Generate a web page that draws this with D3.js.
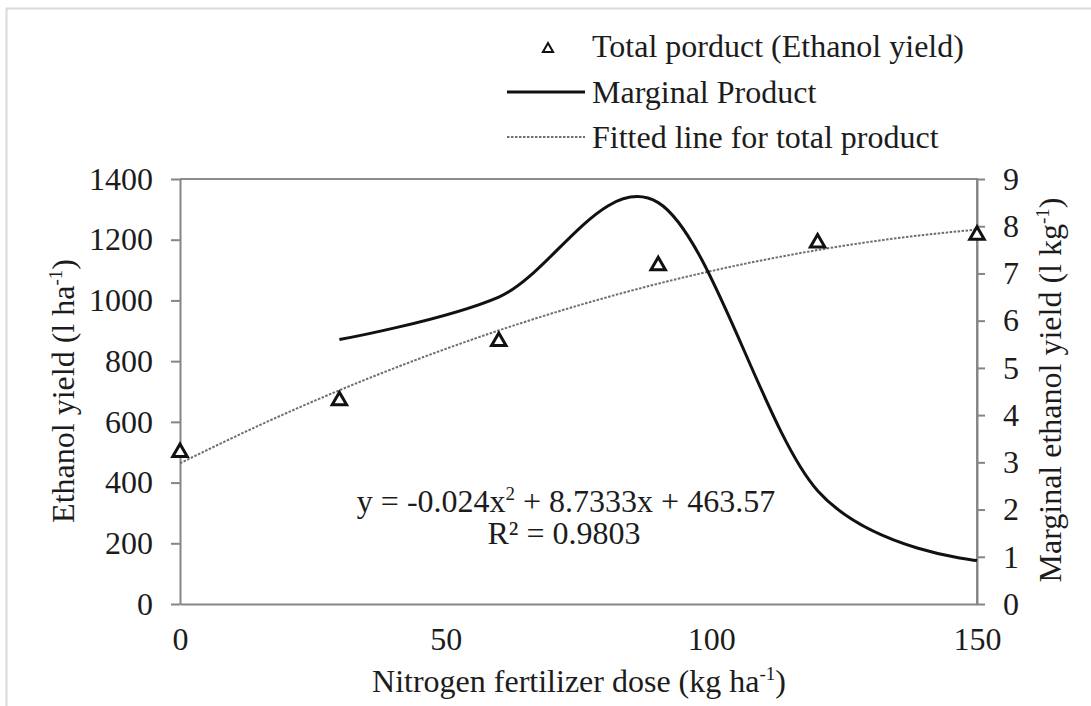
<!DOCTYPE html>
<html>
<head>
<meta charset="utf-8">
<script src="https://cdn.jsdelivr.net/npm/d3@7"></script>
<style>
  body { margin: 0; background: #fff; }
  svg text { font-family: "Liberation Serif", "Times New Roman", serif; fill: #1c1c1c; }
</style>
</head>
<body>
<div id="chart"></div>
<script>
// nitrogen doses (kg/ha)
const doses = [0, 30, 60, 90, 120, 150];
// total product, ethanol yield (l/ha)
const totalProduct = [500, 670, 865, 1115, 1190, 1215];
// marginal product (l/kg), starts at the second dose
const marginalDoses = [30, 60, 90, 120, 150];
const marginalProduct = [5.6, 6.5, 8.5, 2.4, 0.92];
// fitted quadratic
const fitDoses = [0, 15, 30, 45, 60, 75, 90, 105, 120, 135, 150];
const fitValues = [463.6, 589.2, 704.0, 808.0, 901.2, 983.6, 1055.2, 1116.0, 1166.0, 1205.2, 1233.6];
// tick values
const leftTicks = [0, 200, 400, 600, 800, 1000, 1200, 1400];
const rightTicks = [0, 1, 2, 3, 4, 5, 6, 7, 8, 9];
const xTicks = [0, 50, 100, 150];

const width = 1091, height = 706;
const plot = {left: 180, right: 977, top: 179, bottom: 604};
const fontSize = 32;
const supSize = 19;

const svg = d3.select('#chart').append('svg')
  .attr('width', width)
  .attr('height', height);

// outer frame of the figure
svg.append('rect')
  .attr('x', 6.5).attr('y', 8.5)
  .attr('width', width + 20).attr('height', height + 20)
  .attr('fill', 'none')
  .attr('stroke', '#d9d9d9')
  .attr('stroke-width', 2);

const x = d3.scaleLinear().domain([0, 150]).range([plot.left, plot.right]);
const yLeft = d3.scaleLinear().domain([0, 1400]).range([plot.bottom, plot.top]);
const yRight = d3.scaleLinear().domain([0, 9]).range([plot.bottom, plot.top]);

// plot box (top and right)
svg.append('path')
  .attr('d', `M${plot.left},${plot.top}H${plot.right}V${plot.bottom}`)
  .attr('fill', 'none')
  .attr('stroke', '#8c8c8c')
  .attr('stroke-width', 2);

function styleAxis(g) {
  g.selectAll('.domain, .tick line').attr('stroke', '#858585').attr('stroke-width', 2);
  g.selectAll('text').attr('font-size', fontSize).attr('font-family', null).attr('fill', null);
}

svg.append('g')
  .attr('transform', `translate(${plot.left},0)`)
  .call(d3.axisLeft(yLeft).tickValues(leftTicks).tickFormat(d3.format('d'))
    .tickSize(9).tickSizeOuter(0).tickPadding(18))
  .call(styleAxis);

svg.append('g')
  .attr('transform', `translate(${plot.right},0)`)
  .call(d3.axisRight(yRight).tickValues(rightTicks).tickFormat(d3.format('d'))
    .tickSize(8).tickSizeOuter(0).tickPadding(18))
  .call(styleAxis);

svg.append('g')
  .attr('transform', `translate(0,${plot.bottom})`)
  .call(d3.axisBottom(x).tickValues(xTicks).tickSize(0).tickPadding(23))
  .call(styleAxis);

// fitted line
const fitLine = d3.line()
  .x((d, i) => x(fitDoses[i]))
  .y(d => yLeft(d))
  .curve(d3.curveMonotoneX);

svg.append('path')
  .datum(fitValues)
  .attr('d', fitLine)
  .attr('fill', 'none')
  .attr('stroke', '#6e6e6e')
  .attr('stroke-width', 2)
  .attr('stroke-dasharray', '2.5,1.5');

// marginal product, smoothed like a spreadsheet line
const mpLine = d3.line()
  .x((d, i) => x(marginalDoses[i]))
  .y(d => yRight(d))
  .curve(d3.curveCardinal.tension(0));

svg.append('path')
  .datum(marginalProduct)
  .attr('d', mpLine)
  .attr('fill', 'none')
  .attr('stroke', '#111')
  .attr('stroke-width', 3);

// total product triangles
const triangle = d3.symbol().type(d3.symbolTriangle).size(90);
svg.selectAll('.tp')
  .data(totalProduct)
  .enter().append('path')
  .attr('class', 'tp')
  .attr('d', triangle)
  .attr('transform', (d, i) => `translate(${x(doses[i])},${yLeft(d)})`)
  .attr('fill', '#fff')
  .attr('stroke', '#111')
  .attr('stroke-width', 3);

// equation of the trendline
const eq = svg.append('text')
  .attr('x', 566).attr('y', 512)
  .attr('text-anchor', 'middle')
  .attr('font-size', fontSize);
eq.append('tspan').text('y = -0.024x');
eq.append('tspan').text('2').attr('font-size', supSize).attr('dy', -12);
eq.append('tspan').text(' + 8.7333x + 463.57').attr('dy', 12);

svg.append('text')
  .attr('x', 564).attr('y', 544)
  .attr('text-anchor', 'middle')
  .attr('font-size', fontSize)
  .text('R² = 0.9803');

// axis titles
function titleWithSup(sel, main) {
  sel.append('tspan').text(main);
  sel.append('tspan').text('-1').attr('font-size', supSize).attr('dy', -12);
  sel.append('tspan').text(')').attr('dy', 12);
}

svg.append('text')
  .attr('x', 579).attr('y', 692)
  .attr('text-anchor', 'middle')
  .attr('font-size', fontSize)
  .call(titleWithSup, 'Nitrogen fertilizer dose (kg ha');

svg.append('text')
  .attr('transform', 'translate(74,391) rotate(-90)')
  .attr('text-anchor', 'middle')
  .attr('font-size', fontSize)
  .call(titleWithSup, 'Ethanol yield (l ha');

svg.append('text')
  .attr('transform', 'translate(1061,390) rotate(-90)')
  .attr('text-anchor', 'middle')
  .attr('font-size', fontSize)
  .call(titleWithSup, 'Marginal ethanol yield (l kg');

// legend
const legend = svg.append('g');
const legendRows = [
  {label: 'Total porduct (Ethanol yield)', y: 46, kind: 'marker'},
  {label: 'Marginal Product', y: 92, kind: 'solid'},
  {label: 'Fitted line for total product', y: 137, kind: 'dotted'}
];
legendRows.forEach(r => {
  if (r.kind === 'marker') {
    legend.append('path')
      .attr('d', d3.symbol().type(d3.symbolTriangle).size(45))
      .attr('transform', `translate(548,${r.y + 3})`)
      .attr('fill', '#fff')
      .attr('stroke', '#111')
      .attr('stroke-width', 2);
  } else {
    legend.append('line')
      .attr('x1', 507).attr('x2', 585)
      .attr('y1', r.y).attr('y2', r.y)
      .attr('stroke', r.kind === 'solid' ? '#111' : '#6e6e6e')
      .attr('stroke-width', r.kind === 'solid' ? 3 : 2)
      .attr('stroke-dasharray', r.kind === 'solid' ? null : '2.5,1.5');
  }
  legend.append('text')
    .attr('x', 592).attr('y', r.y)
    .attr('dy', '0.35em')
    .attr('font-size', fontSize)
    .text(r.label);
});
</script>
</body>
</html>
